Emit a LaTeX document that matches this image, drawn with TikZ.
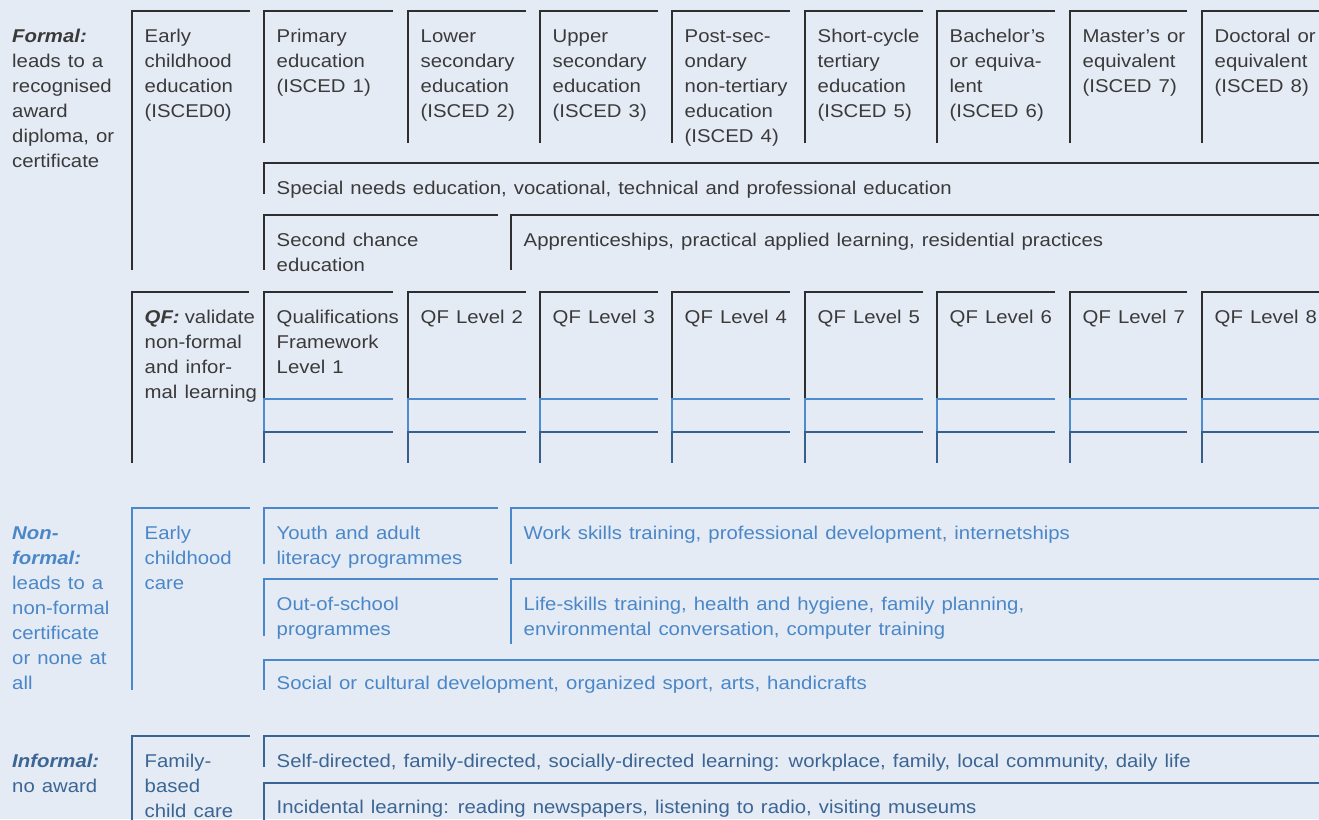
\documentclass[tikz,border=0pt]{standalone}
\usepackage{fontspec}
\setmainfont{Liberation Sans}[FakeStretch=1.1,WordSpace=1.25]
\definecolor{bg}{HTML}{E5EBF5}
\definecolor{fline}{HTML}{2E2E2E}
\definecolor{ftext}{HTML}{3A3A3A}
\definecolor{nline}{HTML}{4A88CC}
\definecolor{ntext}{HTML}{4A87C8}
\definecolor{iline}{HTML}{3A6494}
\definecolor{itext}{HTML}{3B6593}
\definecolor{qlight}{HTML}{4D8DCF}
\definecolor{qdark}{HTML}{365F8C}
\newcommand\brk[5]{\draw[#1] (#4,#3) -- (#2,#3) -- (#2,#5);}
\begin{document}
\begin{tikzpicture}[x=1pt,y=-1pt,
  txt/.style={anchor=north west, inner sep=0pt, align=left, font=\fontsize{18.5}{25}\selectfont},
  ft/.style={txt,text=ftext},
  nt/.style={txt,text=ntext},
  it/.style={txt,text=itext},
  fl/.style={draw=fline,line width=2.5pt},
  nl/.style={draw=nline,line width=2.5pt},
  il/.style={draw=iline,line width=2.5pt},
  ql/.style={draw=qlight,line width=2.5pt},
  qd/.style={draw=qdark,line width=2.5pt}]
\fill[bg] (0,0) rectangle (1319,819);
\useasboundingbox (0,0) rectangle (1319,819);

% ---------- Formal ----------
\node[ft] (formal) at (12,24.5) {\strut\textbf{\textit{Formal:}}\\leads to a\\recognised\\award\\diploma, or\\certificate};
\brk{fl}{132}{11}{250}{270}
\node[ft] (ec) at (144.5,24.5) {\strut Early\\childhood\\education\\(ISCED0)};
\foreach \l/\r/\t [count=\i] in {
  264/393/{Primary\\education\\(ISCED 1)},
  408/526/{Lower\\secondary\\education\\(ISCED 2)},
  540/658/{Upper\\secondary\\education\\(ISCED 3)},
  672/790/{Post-sec-\\ondary\\non-tertiary\\education\\(ISCED 4)},
  805/923/{Short-cycle\\tertiary\\education\\(ISCED 5)},
  937/1055/{Bachelor’s\\or equiva-\\lent\\(ISCED 6)},
  1070/1187/{Master’s or\\equivalent\\(ISCED 7)},
  1202/1325/{Doctoral or\\equivalent\\(ISCED 8)}}{
  \brk{fl}{\l}{11}{\r}{143}
  \node[ft] (is\i) at (\l+12.5,24.5) {\strut\t};
}
\brk{fl}{264}{163}{1325}{194}
\node[ft] (spec) at (276.5,176.5) {\strut Special needs education, vocational, technical and professional education};
\brk{fl}{264}{215}{498}{270}
\node[ft] (second) at (276.5,228.5) {\strut Second chance\\education};
\brk{fl}{511}{215}{1325}{270}
\node[ft] (appr) at (523.5,228.5) {\strut Apprenticeships, practical applied learning, residential practices};

% ---------- QF ----------
\brk{fl}{132}{292}{249}{463}
\node[ft] (qf) at (144.5,305.5) {\strut\textbf{\textit{QF:}}\hspace{-2pt} validate\\non-formal\\and infor-\\mal learning};
\foreach \l/\r/\t [count=\i] in {
  264/393/{Qualifications\\Framework\\Level 1},
  408/526/{QF Level 2},
  540/658/{QF Level 3},
  672/790/{QF Level 4},
  805/923/{QF Level 5},
  937/1055/{QF Level 6},
  1070/1187/{QF Level 7},
  1202/1325/{QF Level 8}}{
  \brk{fl}{\l}{292}{\r}{399}
  \draw[ql] (\r,399) -- (\l,399) -- (\l,432);
  \draw[qd] (\r,432) -- (\l,432) -- (\l,463);
  \node[ft] (qf\i) at (\l+12.5,305.5) {\strut\t};
}

% ---------- Non-formal ----------
\node[nt] (nonformal) at (12,521.5) {\strut\textbf{\textit{Non-}}\\\textbf{\textit{formal:}}\\leads to a\\non-formal\\certificate\\or none at\\all};
\brk{nl}{132}{508}{250}{690}
\node[nt] (ecc) at (144.5,521.5) {\strut Early\\childhood\\care};
\brk{nl}{264}{508}{498}{564}
\node[nt] (youth) at (276.5,521.5) {\strut Youth and adult\\literacy programmes};
\brk{nl}{511}{508}{1325}{564}
\node[nt] (work) at (523.5,521.5) {\strut Work skills training, professional development, internetships};
\brk{nl}{264}{579}{498}{636}
\node[nt] (outs) at (276.5,592.5) {\strut Out-of-school\\programmes};
\brk{nl}{511}{579}{1325}{644}
\node[nt] (life) at (523.5,592.5) {\strut Life-skills training, health and hygiene, family planning,\\environmental conversation, computer training};
\brk{nl}{264}{660}{1325}{690}
\node[nt] (social) at (276.5,671.5) {\strut Social or cultural development, organized sport, arts, handicrafts};

% ---------- Informal ----------
\node[it] (informal) at (12,749.5) {\strut\textbf{\textit{Informal:}}\\no award};
\brk{il}{132}{736}{250}{825}
\node[it] (family) at (144.5,749.5) {\strut Family-\\based\\child care};
\brk{il}{264}{736}{1325}{767}
\node[it] (self) at (276.5,749.5) {\strut Self-directed, family-directed, socially-directed learning: workplace, family, local community, daily life};
\brk{il}{264}{783}{1325}{825}
\node[it] (incid) at (276.5,795.5) {\strut Incidental learning: reading newspapers, listening to radio, visiting museums};
\end{tikzpicture}
\end{document}
